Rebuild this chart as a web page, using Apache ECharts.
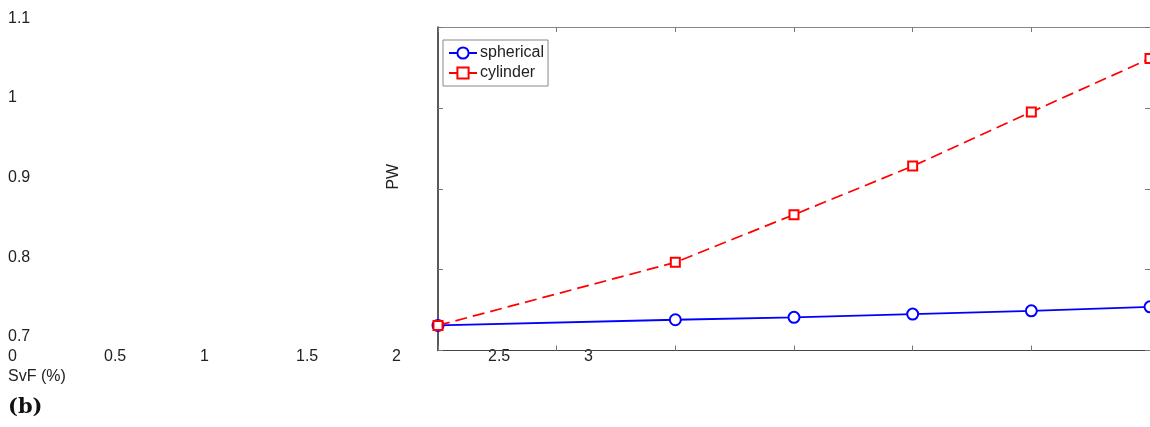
<!DOCTYPE html>
<html><head><meta charset="utf-8">
<script src="https://cdn.jsdelivr.net/npm/echarts@6/dist/echarts.min.js"></script>
<style>html,body{margin:0;padding:0;background:#fff}#c{width:1150px;height:427px}</style>
</head><body><div id="c"></div>
<script>
const svf = [0, 1, 1.5, 2, 2.5, 3];
const spherical = [0.731, 0.738, 0.741, 0.745, 0.749, 0.754];
const cylinder = [0.731, 0.809, 0.868, 0.928, 0.995, 1.061];
const yTickLabels = ['0.7', '0.8', '0.9', '1', '1.1'];
const xTickLabels = ['0', '0.5', '1', '1.5', '2', '2.5', '3'];
const xName = 'SvF (%)';
const yName = 'PW';
const panelLabel = '(b)';

const FONT = 'Liberation Sans, Arial, sans-serif';
const TXT = '#222';
const FS = 16;

const graphics = [];
yTickLabels.forEach((t, i) => graphics.push({
  type: 'text', x: 8, y: 336.7 - 79.6 * i,
  style: { text: t, font: FS + 'px ' + FONT, fill: TXT, align: 'left', verticalAlign: 'middle' }
}));
xTickLabels.forEach((t, i) => graphics.push({
  type: 'text', x: 8 + 96 * i, y: 356.5,
  style: { text: t, font: FS + 'px ' + FONT, fill: TXT, align: 'left', verticalAlign: 'middle' }
}));
graphics.push({ type: 'text', x: 8, y: 377, style: { text: xName, font: FS + 'px ' + FONT, fill: TXT, align: 'left', verticalAlign: 'middle' } });
graphics.push({ type: 'text', x: 8, y: 408, style: { text: panelLabel, font: 'bold 21px DejaVu Serif, serif', fill: '#111', align: 'left', verticalAlign: 'middle' } });
graphics.push({ type: 'text', x: 394, y: 176.7, rotation: Math.PI / 2, style: { text: yName, font: FS + 'px ' + FONT, fill: TXT, align: 'center', verticalAlign: 'middle' } });

function mkAxis(extra, lineColor, lineWidth) {
  return Object.assign({
    type: 'value',
    axisLine: { show: true, onZero: false, lineStyle: { color: lineColor, width: lineWidth } },
    axisTick: { show: true, inside: true, length: 5, lineStyle: { color: '#777', width: 1 } },
    axisLabel: { show: false },
    splitLine: { show: false }
  }, extra);
}

const chart = echarts.init(document.getElementById('c'), null, { renderer: 'canvas' });
chart.setOption({
  animation: false,
  backgroundColor: '#fff',
  textStyle: { fontFamily: FONT },
  grid: { left: 438, top: 27, width: 712, height: 323.5 },
  xAxis: [
    mkAxis({ position: 'bottom', min: 0, max: 3, interval: 0.5 }, '#444', 1.2),
    mkAxis({ position: 'top', min: 0, max: 3, interval: 0.5 }, '#888', 1)
  ],
  yAxis: [
    mkAxis({ position: 'left', min: 0.7, max: 1.1, interval: 0.1 }, '#222', 1.5),
    mkAxis({ position: 'right', min: 0.7, max: 1.1, interval: 0.1 }, '#888', 1)
  ],
  legend: {
    orient: 'vertical', left: 443, top: 40,
    padding: [5, 4, 5, 5], itemGap: 4, itemWidth: 28, itemHeight: 14,
    borderColor: '#888', borderWidth: 1, backgroundColor: '#fff',
    textStyle: { fontFamily: FONT, fontSize: FS, color: TXT, padding: [0, 0, 0, -2] },
    data: ['spherical', 'cylinder']
  },
  graphic: graphics,
  series: [
    {
      name: 'spherical', type: 'line', data: svf.map((x, i) => [x, spherical[i]]),
      symbol: 'emptyCircle', symbolSize: 11, clip: false,
      lineStyle: { color: '#0000ff', width: 1.8 },
      itemStyle: { color: '#0000ff', borderColor: '#0000ff', borderWidth: 1.5 },
      z: 3
    },
    {
      name: 'cylinder', type: 'line', data: svf.map((x, i) => [x, cylinder[i]]),
      symbol: 'emptyRect', symbolSize: 9, clip: false,
      lineStyle: { color: '#ff0000', width: 1.7, type: [12, 6] },
      itemStyle: { color: '#ff0000', borderColor: '#ff0000', borderWidth: 1.3 },
      z: 4
    }
  ]
});
</script></body></html>
